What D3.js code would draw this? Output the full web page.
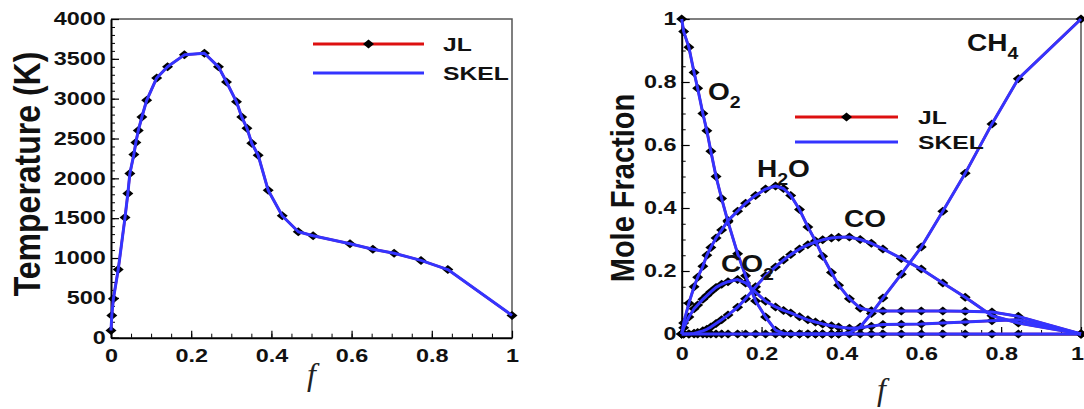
<!DOCTYPE html>
<html>
<head>
<meta charset="utf-8">
<script src="https://cdn.jsdelivr.net/npm/d3@7"></script>
<style>
  body { margin: 0; background: #fff; }
  svg { display: block; }
</style>
</head>
<body>
<div id="canvas"></div>
<script>
// ---- data ----
// left panel: temperature vs mixture fraction
const tempF = [0, 0.002, 0.006, 0.018, 0.035, 0.042, 0.047, 0.057, 0.062, 0.068, 0.077, 0.089,
  0.114, 0.141, 0.183, 0.233, 0.268, 0.288, 0.313, 0.326, 0.339, 0.351, 0.367, 0.392,
  0.427, 0.467, 0.504, 0.596, 0.653, 0.706, 0.773, 0.840, 1.0];
const tempK = [90, 280, 490, 855, 1510, 1810, 2060, 2300, 2450, 2600, 2770, 2980,
  3260, 3400, 3550, 3570, 3400, 3210, 2960, 2770, 2630, 2440, 2290, 1850,
  1530, 1330, 1280, 1180, 1110, 1060, 970, 855, 280];

// right panel: mole fractions vs mixture fraction
const moleF = [0, 0.005, 0.018, 0.031, 0.040, 0.053, 0.063, 0.073, 0.086, 0.100, 0.116, 0.140,
  0.160, 0.185, 0.210, 0.235, 0.255, 0.273, 0.295, 0.316, 0.335, 0.353, 0.375, 0.393,
  0.420, 0.447, 0.475, 0.504, 0.550, 0.600, 0.654, 0.710, 0.777, 0.843, 1.000];
const xO2 = [1.0, 0.96, 0.91, 0.83, 0.78, 0.70, 0.645, 0.58, 0.50, 0.43, 0.356, 0.255,
  0.185, 0.105, 0.054, 0.012, 0.002, 0, 0, 0, 0, 0, 0, 0,
  0, 0, 0, 0, 0, 0, 0, 0, 0, 0, 0];
const xH2O = [0, 0.035, 0.098, 0.15, 0.18, 0.215, 0.25, 0.275, 0.305, 0.33, 0.36, 0.39,
  0.415, 0.44, 0.46, 0.47, 0.462, 0.44, 0.395, 0.34, 0.295, 0.247, 0.195, 0.155,
  0.112, 0.082, 0.074, 0.073, 0.073, 0.073, 0.073, 0.072, 0.07, 0.056, 0];
const xCO2 = [0, 0.02, 0.054, 0.08, 0.092, 0.11, 0.122, 0.134, 0.148, 0.158, 0.166, 0.173,
  0.162, 0.133, 0.104, 0.086, 0.075, 0.067, 0.055, 0.045, 0.038, 0.032, 0.026, 0.022,
  0.018, 0.02, 0.025, 0.03, 0.031, 0.032, 0.035, 0.038, 0.042, 0.045, 0];
const xCO = [0, 0, 0, 0.002, 0.005, 0.01, 0.015, 0.022, 0.033, 0.045, 0.06, 0.085,
  0.112, 0.15, 0.185, 0.213, 0.235, 0.252, 0.27, 0.283, 0.292, 0.299, 0.305, 0.307,
  0.308, 0.30, 0.288, 0.27, 0.24, 0.206, 0.162, 0.117, 0.058, 0.035, 0];
const xCH4 = [0, 0, 0, 0, 0, 0, 0, 0, 0, 0, 0, 0,
  0, 0, 0, 0, 0, 0, 0, 0, 0, 0, 0, 0,
  0.004, 0.022, 0.065, 0.114, 0.19, 0.276, 0.39, 0.51, 0.667, 0.81, 1.0];

const xTicks = [0, 0.2, 0.4, 0.6, 0.8, 1];
const tempTicks = [0, 500, 1000, 1500, 2000, 2500, 3000, 3500, 4000];
const moleTicks = [0, 0.2, 0.4, 0.6, 0.8, 1];
const legendNames = ["JL", "SKEL"];

const width = 1084;
const height = 409;
const blue = "#3434ff";
const red = "#dd1010";
const diamond = "M0,-4.5L5.5,0L0,4.5L-5.5,0Z";

const svg = d3.select("#canvas").append("svg")
  .attr("width", width).attr("height", height)
  .attr("viewBox", [0, 0, width, height]);
svg.append("rect").attr("width", width).attr("height", height).attr("fill", "#fff");

const fmt = d => (d === 0 || d === 1) ? String(d) : d.toFixed(1);

function panel(cfg) {
  const x = d3.scaleLinear().domain([0, 1]).range([cfg.left, cfg.right]);
  const y = d3.scaleLinear().domain([0, cfg.ymax]).range([cfg.bottom, cfg.top]);

  // frame top + right
  svg.append("path")
    .attr("d", `M${cfg.left},${cfg.top}H${cfg.right}V${cfg.bottom}`)
    .attr("fill", "none").attr("stroke", "#555").attr("stroke-width", 1.5);

  // minor ticks
  svg.append("g").attr("transform", `translate(0,${cfg.bottom})`)
    .call(d3.axisBottom(x).tickValues(d3.range(0, 1.001, 0.05)).tickSize(-4).tickFormat(""))
    .call(g => g.select(".domain").remove());
  svg.append("g").attr("transform", `translate(${cfg.left},0)`)
    .call(d3.axisLeft(y).tickValues(d3.range(0, cfg.ymax * 1.0001, cfg.minor)).tickSize(-4).tickFormat(""))
    .call(g => g.select(".domain").remove());

  // major axes
  const gx = svg.append("g").attr("transform", `translate(0,${cfg.bottom})`)
    .call(d3.axisBottom(x).tickValues(xTicks).tickSize(-7).tickSizeOuter(0)
      .tickPadding(cfg.xpad).tickFormat(fmt));
  const gy = svg.append("g").attr("transform", `translate(${cfg.left},0)`)
    .call(d3.axisLeft(y).tickValues(cfg.yticks).tickSize(-8).tickSizeOuter(0)
      .tickPadding(4).tickFormat(cfg.yfmt));
  [gx, gy].forEach(g => {
    g.attr("font-family", "Liberation Sans, Arial, sans-serif")
      .attr("font-size", 18).attr("font-weight", "bold");
    g.select(".domain").attr("stroke-width", 2);
    g.selectAll(".tick line").attr("stroke-width", 1.2);
    g.selectAll(".tick text").attr("fill", "#111").attr("transform", "scale(1.3,1)");
  });
  // keep the last x label inside the page when the panel reaches the edge
  if (cfg.right > width - 10) {
    gx.selectAll(".tick text").filter(d => d === 1)
      .attr("text-anchor", "end").attr("x", 2);
  }

  // series: JL line (under), JL diamonds, SKEL line on top
  const line = d3.line().x(d => x(d[0])).y(d => y(d[1]));
  cfg.series.forEach(vals => {
    const pts = cfg.f.map((f, i) => [f, vals[i]]);
    svg.append("path").datum(pts).attr("d", line)
      .attr("fill", "none").attr("stroke", red).attr("stroke-width", 2.5);
  });
  cfg.series.forEach(vals => {
    svg.append("g").selectAll("path").data(cfg.f.map((f, i) => [f, vals[i]])).join("path")
      .attr("d", diamond).attr("fill", "#000")
      .attr("transform", d => `translate(${x(d[0])},${y(d[1])})`);
  });
  cfg.series.forEach(vals => {
    const pts = cfg.f.map((f, i) => [f, vals[i]]);
    svg.append("path").datum(pts).attr("d", line)
      .attr("fill", "none").attr("stroke", blue).attr("stroke-width", 3)
      .attr("stroke-linejoin", "round");
  });

  // legend
  const lg = cfg.legend;
  legendNames.forEach((name, i) => {
    const ly = lg.y + i * lg.dy;
    svg.append("line").attr("x1", lg.x0).attr("x2", lg.x1).attr("y1", ly).attr("y2", ly)
      .attr("stroke", i === 0 ? red : blue).attr("stroke-width", 3);
    if (i === 0) {
      svg.append("path").attr("d", diamond).attr("fill", "#000")
        .attr("transform", `translate(${(lg.x0 + lg.x1) / 2},${ly})`);
    }
    svg.append("text").attr("transform", `translate(${lg.tx},${ly + 7}) scale(1.3,1)`)
      .attr("font-family", "Liberation Sans, Arial, sans-serif").attr("font-size", 19)
      .attr("font-weight", "bold").attr("fill", "#111").text(name);
  });

  // axis titles
  svg.append("text")
    .attr("transform", `translate(${cfg.ylab.x},${cfg.ylab.y}) rotate(-90) scale(1,1.15)`)
    .attr("text-anchor", "middle").attr("dy", "0.35em")
    .attr("font-family", "Liberation Sans, Arial, sans-serif")
    .attr("font-size", cfg.ylab.size).attr("font-weight", "bold").attr("fill", "#111")
    .text(cfg.ylab.text);
  svg.append("text")
    .attr("x", (cfg.left + cfg.right) / 2).attr("y", cfg.flabY)
    .attr("text-anchor", "middle")
    .attr("font-family", "Liberation Serif, Times New Roman, serif")
    .attr("font-style", "italic").attr("font-size", 32).attr("fill", "#222")
    .text("f");
  return { x, y };
}

panel({
  left: 111, right: 512, top: 19, bottom: 337.7,
  ymax: 4000, minor: 100, yticks: tempTicks, yfmt: d => String(d), xpad: 12,
  f: tempF, series: [tempK],
  legend: { x0: 313, x1: 424, y: 44, dy: 29, tx: 443 },
  ylab: { x: 27, y: 174, size: 32, text: "Temperature (K)" },
  flabY: 385
});

panel({
  left: 681.7, right: 1081, top: 19, bottom: 334,
  ymax: 1, minor: 0.05, yticks: moleTicks, yfmt: fmt, xpad: 13,
  f: moleF, series: [xO2, xH2O, xCO2, xCO, xCH4],
  legend: { x0: 795, x1: 898, y: 117, dy: 25, tx: 918 },
  ylab: { x: 622, y: 188, size: 29, text: "Mole Fraction" },
  flabY: 400
});

// species labels (main text + subscript)
const speciesLabels = [
  { x: 708, y: 100, main: "O", sub: "2", tail: "" },
  { x: 757, y: 177, main: "H", sub: "2", tail: "O" },
  { x: 721, y: 272, main: "CO", sub: "2", tail: "" },
  { x: 844, y: 227, main: "CO", sub: "", tail: "" },
  { x: 967, y: 51, main: "CH", sub: "4", tail: "" }
];
speciesLabels.forEach(s => {
  const t = svg.append("text").attr("transform", `translate(${s.x},${s.y}) scale(1.22,1)`)
    .attr("font-family", "Liberation Sans, Arial, sans-serif").attr("font-size", 23)
    .attr("font-weight", "bold").attr("fill", "#111");
  t.append("tspan").text(s.main);
  if (s.sub) t.append("tspan").attr("dy", 8).attr("font-size", 16).text(s.sub);
  if (s.tail) t.append("tspan").attr("dy", -8).text(s.tail);
});
</script>
</body>
</html>
